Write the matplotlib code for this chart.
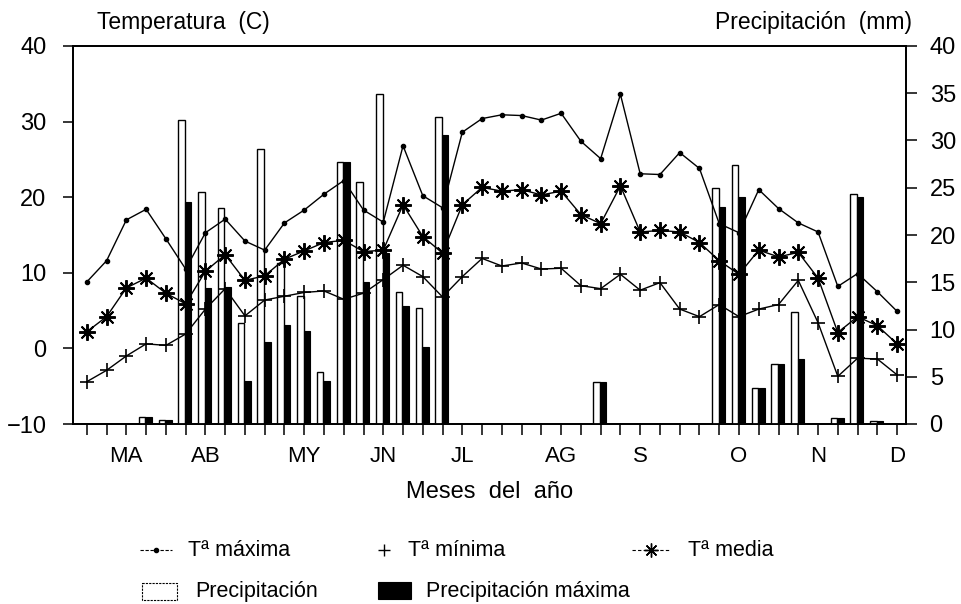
import numpy as np
import matplotlib
matplotlib.use("Agg")
import matplotlib.pyplot as plt
from matplotlib.lines import Line2D
from matplotlib.patches import Rectangle

plt.rcParams['font.family'] = ['Liberation Sans', 'DejaVu Sans']

# Semanas de marzo a diciembre (una marca por semana)
semanas = np.arange(42)

t_max = [8.8, 11.6, 17.0, 18.4, 14.5, 10.5, 15.3, 17.1, 14.2, 13.0,
         16.6, 18.3, 20.4, 22.2, 18.3, 16.7, 26.8, 20.2, 18.6, 28.6,
         30.4, 30.9, 30.8, 30.2, 31.1, 27.4, 25.1, 33.6, 23.1, 23.0,
         25.9, 23.8, 16.5, 15.3, 21.0, 18.5, 16.6, 15.4, 8.2, 9.9,
         7.5, 4.9]
t_min = [-4.4, -2.9, -1.0, 0.6, 0.4, 1.9, 5.2, 7.9, 4.3, 6.4,
         6.9, 7.4, 7.6, 6.5, 7.3, 9.1, 11.0, 9.5, 6.8, 9.5,
         11.9, 10.9, 11.3, 10.5, 10.6, 8.3, 7.9, 9.8, 7.7, 8.7,
         5.2, 4.2, 5.8, 4.2, 5.2, 5.8, 9.0, 3.4, -3.7, -1.3,
         -1.4, -3.5]
t_med = [2.2, 4.2, 8.0, 9.3, 7.3, 5.9, 10.2, 12.4, 9.0, 9.6,
         11.8, 12.9, 14.0, 14.3, 12.8, 13.0, 19.0, 14.8, 12.6, 19.0,
         21.3, 20.8, 21.0, 20.3, 20.8, 17.7, 16.5, 21.5, 15.4, 15.6,
         15.4, 14.0, 11.6, 9.8, 13.0, 12.1, 12.7, 9.3, 2.1, 4.2,
         3.0, 0.6]

precip = [0, 0, 0, 0.7, 0.4, 32.2, 24.6, 22.9, 10.7, 29.1,
          17.0, 13.5, 5.5, 27.7, 25.6, 34.9, 14.0, 12.3, 32.5, 0,
          0, 0, 0, 0, 0, 0, 4.4, 0, 0, 0,
          0, 0, 25.0, 27.4, 3.8, 6.3, 11.9, 0, 0.6, 24.3,
          0.3, 0]
precip_max = [0, 0, 0, 0.7, 0.4, 23.5, 14.4, 14.5, 4.5, 8.7,
              10.5, 9.8, 4.5, 27.7, 15.0, 18.1, 12.5, 8.2, 30.6, 0,
              0, 0, 0, 0, 0, 0, 4.4, 0, 0, 0,
              0, 0, 23.0, 24.0, 3.8, 6.3, 6.9, 0, 0.6, 24.0,
              0.3, 0]

meses = ['MA', 'AB', 'MY', 'JN', 'JL', 'AG', 'S', 'O', 'N', 'D']
pos_meses = [2, 6, 11, 15, 19, 24, 28, 33, 37, 41]

fig = plt.figure(figsize=(9.61, 6.04), dpi=100)
ax = fig.add_axes([73 / 961, 1 - 424 / 604, 833 / 961, 378 / 604])
ax2 = ax.twinx()

ax.set_xlim(-0.7, 41.45)
ax.set_ylim(-10, 40)
ax2.set_ylim(0, 40)

# Barras de precipitación (eje derecho)
ancho = 0.33
ax2.bar(semanas - 0.2, precip, width=ancho, color='white',
        edgecolor='black', linewidth=1.0, zorder=2)
ax2.bar(semanas + 0.13, precip_max, width=ancho, color='black',
        edgecolor='black', linewidth=0.8, zorder=3)

# Temperaturas (eje izquierdo), dibujadas encima de las barras
asterisco = (8, 2, 0)
ax2.plot(semanas, t_max, color='black', lw=1.0, marker='o', ms=3,
         transform=ax.transData, zorder=5, clip_on=False)
ax2.plot(semanas, t_min, color='black', lw=1.0, marker='+', ms=10, mew=1.2,
         transform=ax.transData, zorder=5, clip_on=False)
ax2.plot(semanas, t_med, color='black', lw=1.0, marker=asterisco, ms=12,
         mew=1.4, transform=ax.transData, zorder=5, clip_on=False)

# Ejes y marcas
for a in (ax, ax2):
    for s in a.spines.values():
        s.set_linewidth(1.3)

ax.xaxis.remove_overlapping_locs = False
ax.set_xticks(semanas)
ax.set_xticklabels([])
ax.set_xticks(pos_meses, minor=True)
ax.set_xticklabels(meses, minor=True, fontsize=16)
ax.tick_params(axis='x', which='major', direction='out', length=8, width=1.1)
ax.tick_params(axis='x', which='minor', length=0, pad=16)

ax.set_yticks(np.arange(-10, 41, 10))
ax.tick_params(axis='y', direction='out', length=7, width=1.1,
               labelsize=17, pad=12)
ax2.set_yticks(np.arange(0, 41, 5))
ax2.tick_params(axis='y', direction='out', length=8, width=1.1,
                labelsize=17, pad=9)

fig.text(97 / 961, 1 - 22 / 604, 'Temperatura  (C)', fontsize=16.5,
         ha='left', va='center')
fig.text(912 / 961, 1 - 22 / 604, 'Precipitación  (mm)', fontsize=16.5,
         ha='right', va='center')
fig.text(490 / 961, 1 - 492 / 604, 'Meses  del  año', fontsize=17,
         ha='center', va='center')

# Leyenda dibujada a mano en coordenadas de figura (píxeles)
lax = fig.add_axes([0, 0, 1, 1])
lax.set_xlim(0, 961)
lax.set_ylim(604, 0)
lax.axis('off')

fila1, fila2 = 550, 591
lax.add_line(Line2D([140, 172], [fila1, fila1], color='black', lw=0.8,
                    ls=(0, (3, 1.5))))
lax.add_line(Line2D([156], [fila1], color='black', marker='o', ms=3))
lax.text(188, fila1, 'Tª máxima', fontsize=15.5, va='center')

lax.add_line(Line2D([384], [fila1], color='black', marker='+', ms=9, mew=1.0))
lax.text(408, fila1, 'Tª mínima', fontsize=15.5, va='center')

lax.add_line(Line2D([632, 670], [fila1, fila1], color='black', lw=0.8,
                    ls=(0, (3, 2))))
lax.add_line(Line2D([651], [fila1], color='black', marker=asterisco, ms=10,
                    mew=1.0))
lax.text(688, fila1, 'Tª media', fontsize=15.5, va='center')

lax.add_patch(Rectangle((142, 583), 35, 17, facecolor='white',
                        edgecolor='black', lw=0.8, ls=(0, (2, 1))))
lax.text(195, fila2, 'Precipitación', fontsize=15.5, va='center')
lax.add_patch(Rectangle((378, 582), 33, 17, facecolor='black',
                        edgecolor='black', lw=0.8))
lax.text(426, fila2, 'Precipitación máxima', fontsize=15.5, va='center')

fig.savefig('out.png', dpi=100, facecolor='white')
